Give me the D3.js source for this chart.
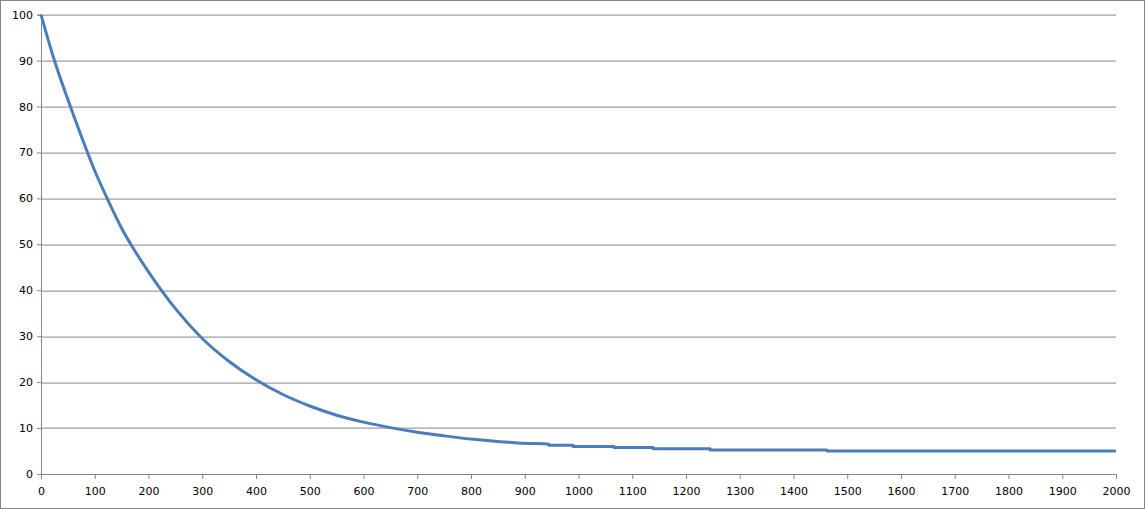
<!DOCTYPE html>
<html>
<head>
  <title>Decay curve</title>
  <script src="https://d3js.org/d3.v7.min.js"></script>
  <style>
    body { margin: 0; background: #fff; }
    text { font-family: "DejaVu Sans", Verdana, sans-serif; font-size: 11px; fill: #000; }
  </style>
</head>
<body>
  <div id="chart"></div>
  <script>
    // values (x = step, y = level)
    const xVals = [0, 25, 50, 75, 100, 125, 150, 175, 200, 250, 300, 350, 400, 450, 500,
                   550, 600, 650, 700, 750, 800, 850, 900, 945, 945, 990, 990, 1066, 1066,
                   1139, 1139, 1245, 1245, 1462, 1462, 2000];
    const yVals = [100, 90, 81.5, 73.5, 66, 59.5, 53.5, 48.5, 44, 36, 29.5, 24.5, 20.5, 17.3, 14.8,
                   12.8, 11.3, 10.1, 9.1, 8.3, 7.6, 7.1, 6.7, 6.5, 6.25, 6.25, 6, 6, 5.75,
                   5.75, 5.5, 5.5, 5.25, 5.25, 5, 5];
    const xTicks = d3.range(0, 2001, 100);
    const yTicks = d3.range(0, 101, 10);

    const W = 1145, H = 509;
    const margin = {top: 14.6, right: 29, bottom: 35, left: 41},
          width = W - margin.left - margin.right,
          height = H - margin.top - margin.bottom;

    const svg = d3.select("#chart")
                  .append("svg")
                  .attr("width", W)
                  .attr("height", H);

    // chart border
    svg.append("rect")
       .attr("x", 0.5).attr("y", 0.5)
       .attr("width", W - 1).attr("height", H - 1)
       .attr("fill", "#fff")
       .attr("stroke", "#868686");

    const g = svg.append("g")
                 .attr("transform", `translate(${margin.left},${margin.top})`);

    const x = d3.scaleLinear().domain([0, 2000]).range([0, width]);
    const y = d3.scaleLinear().domain([0, 100]).range([height, 0]);

    // gridlines
    g.selectAll(".grid")
     .data(yTicks.filter(d => d > 0))
     .enter()
     .append("line")
     .attr("x1", 0).attr("x2", width)
     .attr("y1", d => Math.round(y(d)) + 0.5)
     .attr("y2", d => Math.round(y(d)) + 0.5)
     .attr("stroke", "#868686");

    // y axis
    const yAxis = g.append("g")
                   .call(d3.axisLeft(y).tickValues(yTicks).tickFormat(d3.format("d"))
                           .tickSize(4).tickPadding(4));
    // x axis
    const xAxis = g.append("g")
                   .attr("transform", `translate(0,${height})`)
                   .call(d3.axisBottom(x).tickValues(xTicks).tickFormat(d3.format("d"))
                           .tickSize(5).tickPadding(8));

    [xAxis, yAxis].forEach(a => {
      a.attr("font-family", null).attr("font-size", null);
      a.selectAll("line, path").attr("stroke", "#868686");
    });

    // line
    const pts = xVals.map((v, i) => [v, yVals[i]]);
    g.append("path")
     .datum(pts)
     .attr("fill", "none")
     .attr("stroke", "#4a7ebb")
     .attr("stroke-width", 3)
     .attr("stroke-linejoin", "round")
     .attr("d", d3.line().x(d => x(d[0])).y(d => y(d[1])).curve(d3.curveMonotoneX));
  </script>
</body>
</html>
